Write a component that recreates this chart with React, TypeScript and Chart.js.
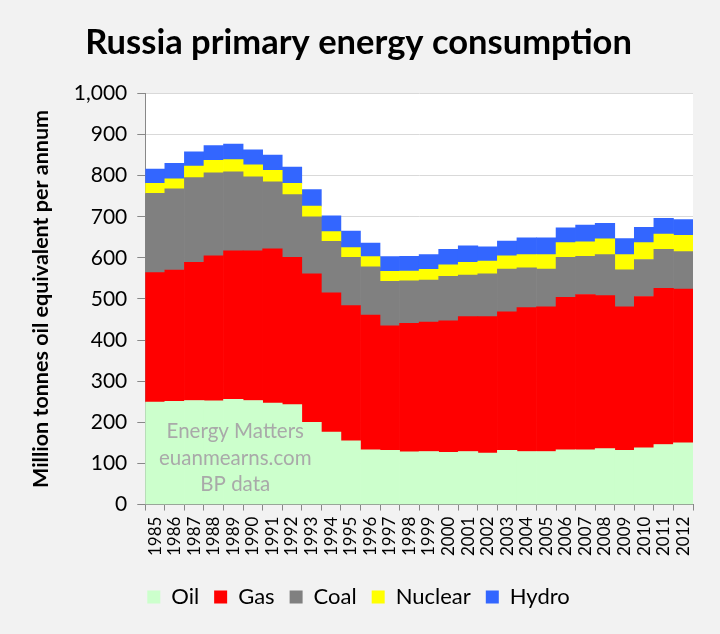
import React, { useEffect, useRef } from "react";
import { Chart, registerables } from "chart.js";

Chart.register(...registerables);

const years = [
  "1985", "1986", "1987", "1988", "1989", "1990", "1991", "1992", "1993", "1994",
  "1995", "1996", "1997", "1998", "1999", "2000", "2001", "2002", "2003", "2004",
  "2005", "2006", "2007", "2008", "2009", "2010", "2011", "2012",
];
const oil = [249, 251, 253, 252, 256, 253, 247, 243, 200, 176, 155, 133, 132, 128, 129, 127, 129, 125, 132, 129, 129, 133, 133, 136, 132, 138, 146, 150];
const gas = [315, 319, 336, 353, 361, 364, 375, 358, 361, 339, 329, 328, 303, 313, 315, 320, 328, 332, 337, 350, 352, 371, 378, 372, 349, 368, 380, 374];
const coal = [193, 198, 206, 202, 192, 180, 163, 153, 139, 125, 117, 117, 108, 103, 102, 108, 101, 104, 104, 97, 92, 97, 93, 100, 90, 90, 95, 91];
const nuclear = [24, 24, 28, 30, 30, 29, 28, 27, 26, 24, 24, 25, 24, 24, 26, 28, 31, 31, 32, 32, 35, 36, 35, 38, 37, 41, 37, 40];
const hydro = [35, 38, 35, 36, 38, 37, 37, 40, 40, 38, 40, 33, 36, 36, 36, 38, 40, 35, 36, 41, 41, 36, 41, 38, 39, 37, 38, 38];

const titleText = "Russia primary energy consumption";
const yTitle = "Million tonnes oil equivalent per annum";
const watermark = ["Energy Matters", "euanmearns.com", "BP data"];

const FONT = "Lato, 'Open Sans', sans-serif";

export default function App() {
  const ref = useRef<HTMLCanvasElement | null>(null);

  useEffect(() => {
    document.body.style.margin = "0";
    document.body.style.background = "#f2f2f2";
    const canvas = ref.current;
    if (!canvas) return;

    const bgPlugin = {
      id: "plotBg",
      beforeDraw(chart: any) {
        const { ctx, chartArea } = chart;
        ctx.save();
        ctx.fillStyle = "#ffffff";
        ctx.fillRect(chartArea.left, chartArea.top, chartArea.right - chartArea.left, chartArea.bottom - chartArea.top);
        ctx.restore();
      },
    };

    const wmPlugin = {
      id: "watermark",
      afterDatasetsDraw(chart: any) {
        const { ctx } = chart;
        const xs = chart.scales.x;
        const ys = chart.scales.y;
        const cx = xs.getPixelForValue(4.1);
        ctx.save();
        ctx.fillStyle = "#a9a9a9";
        ctx.font = `20.5px ${FONT}`;
        ctx.textAlign = "center";
        ctx.textBaseline = "middle";
        const base = ys.getPixelForValue(177);
        watermark.forEach((t, i) => ctx.fillText(t, cx, base + i * 26.5));
        ctx.restore();
      },
    };

    const chart = new Chart(canvas, {
      type: "bar",
      data: {
        labels: years,
        datasets: [
          { label: "Oil", data: oil, backgroundColor: "#ccffcc" },
          { label: "Gas", data: gas, backgroundColor: "#ff0000" },
          { label: "Coal", data: coal, backgroundColor: "#808080" },
          { label: "Nuclear", data: nuclear, backgroundColor: "#ffff00" },
          { label: "Hydro", data: hydro, backgroundColor: "#3366ff" },
        ],
      },
      options: {
        animation: false,
        responsive: false,
        maintainAspectRatio: false,
        datasets: {
          bar: { categoryPercentage: 1, barPercentage: 1, borderWidth: 0 },
        },
        layout: { padding: { left: 24, right: 27, top: 0, bottom: 16 } },
        plugins: {
          title: {
            display: true,
            text: titleText,
            color: "#000",
            font: { family: FONT, size: 34.5, weight: "bold" },
            padding: { top: 22, bottom: 30 },
          },
          legend: {
            position: "bottom",
            labels: {
              color: "#000",
              boxWidth: 13,
              boxHeight: 13,
              padding: 15,
              font: { family: FONT, size: 22 },
            },
          },
          tooltip: { enabled: false },
        },
        scales: {
          x: {
            stacked: true,
            afterFit: (scale: any) => {
              scale.height += 9;
            },
            grid: { drawOnChartArea: false, drawTicks: true, tickLength: 6, color: "#888", offset: true },
            border: { color: "#888", width: 1 },
            ticks: {
              color: "#000",
              minRotation: 90,
              maxRotation: 90,
              autoSkip: false,
              padding: 6,
              font: { family: FONT, size: 17 },
            },
          },
          y: {
            stacked: true,
            min: 0,
            max: 1000,
            grid: { color: "#d9d9d9", tickLength: 8, tickColor: "#888" },
            border: { color: "#888", width: 1 },
            ticks: {
              stepSize: 100,
              color: "#000",
              padding: 10,
              font: { family: FONT, size: 21 },
              callback: (v: any) => Number(v).toLocaleString("en-US"),
            },
            title: {
              display: true,
              text: yTitle,
              color: "#000",
              font: { family: FONT, size: 21.5, weight: "bold" },
              padding: { bottom: 10 },
            },
          },
        },
      },
      plugins: [bgPlugin, wmPlugin],
    });
    return () => chart.destroy();
  }, []);

  return (
    <div style={{ position: "absolute", left: 0, top: 0, width: 720, height: 634, background: "#f2f2f2" }}>
      <canvas ref={ref} width={720} height={634} style={{ width: 720, height: 634, display: "block" }} />
    </div>
  );
}
